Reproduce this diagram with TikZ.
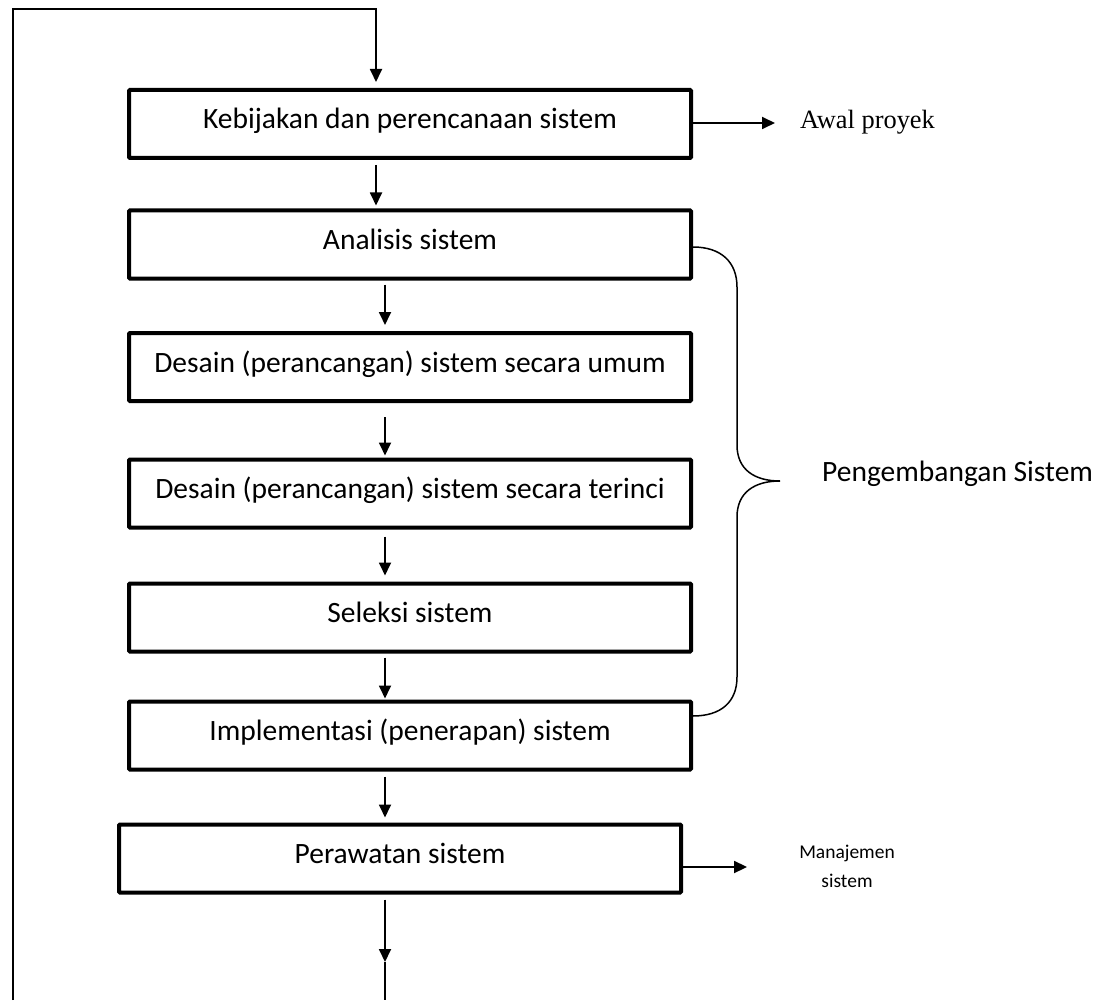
\documentclass[tikz,border=0pt]{standalone}
\usepackage{fontspec}
\setmainfont{Carlito}
\newfontfamily\seriffont{Liberation Serif}
\usetikzlibrary{arrows.meta,calc}
\begin{document}
\begin{tikzpicture}[x=1pt,y=-1pt,
  stepbox/.style={draw, line width=4pt, minimum width=562pt, minimum height=68pt,
    inner sep=0pt, font=\fontsize{29.5pt}{35pt}\selectfont,
    text height=18pt, text depth=8pt, rounded corners=1pt},
  conn/.style={line width=1.8pt},
  arr/.style={conn, -{Triangle[length=13pt,width=12pt]}},
  brace/.style={line width=1.5pt},
  lbl/.style={inner sep=0pt}]
\useasboundingbox (0,0) rectangle (1106,1003);
\fill[white] (0,0) rectangle (1106,1003);

\node[stepbox] (b1) at (410,124) {Kebijakan dan perencanaan sistem};
\node[stepbox] (b2) at (410,244.5) {Analisis sistem};
\node[stepbox] (b3) at (410,367) {Desain (perancangan) sistem secara umum};
\node[stepbox] (b4) at (410,493.5) {Desain (perancangan) sistem secara terinci};
\node[stepbox] (b5) at (410,617.5) {Seleksi sistem};
\node[stepbox] (b6) at (410,735.5) {Implementasi (penerapan) sistem};
\node[stepbox] (b7) at (400,858.5) {Perawatan sistem};

\node[lbl, anchor=base west, font=\seriffont\fontsize{26.4pt}{30pt}\selectfont] (awal) at (800,129) {Awal proyek};
\node[lbl, anchor=base west, font=\fontsize{29.5pt}{35pt}\selectfont] (peng) at (822,481) {Pengembangan Sistem};
\node[lbl, align=center, font=\fontsize{19.5pt}{29pt}\selectfont] (manaj) at (847,866) {Manajemen\\sistem};

% feedback loop
\coordinate (lb) at (13,1000);
\coordinate (lt) at (13,9);
\coordinate (rt) at (376,9);
\draw[arr, shorten >=6pt] (lb) -- (lt) -- (rt) -- (rt |- b1.north);

% main flow
\draw[arr, shorten <=5pt, shorten >=3pt] ([xshift=-34pt]b1.south) -- ([xshift=-34pt]b2.north);
\draw[arr, shorten <=4pt, shorten >=6pt] ([xshift=-25pt]b2.south) -- ([xshift=-25pt]b3.north);
\draw[arr, shorten <=14pt, shorten >=2pt] ([xshift=-25pt]b3.south) -- ([xshift=-25pt]b4.north);
\draw[arr, shorten <=7pt, shorten >=6pt] ([xshift=-25pt]b4.south) -- ([xshift=-25pt]b5.north);
\draw[arr, shorten <=4pt, shorten >=1pt] ([xshift=-25pt]b5.south) -- ([xshift=-25pt]b6.north);
\draw[arr, shorten <=5pt, shorten >=5pt] ([xshift=-25pt]b6.south) -- ([xshift=-15pt]b7.north);
\coordinate (btip) at (385,962);
\coordinate (bend) at (385,1000);
\draw[arr, shorten <=5pt] ([xshift=-15pt]b7.south) -- (btip);
\draw[conn] (btip) -- (bend);

% side arrows
\draw[arr, shorten >=25pt] ([yshift=1pt]b1.east) -- ([yshift=1pt]b1.east -| awal.west);
\draw[arr, shorten >=52pt] ([yshift=-8.5pt]b7.east) -- ([yshift=-8.5pt]b7.east -| manaj.west);

% brace
\draw[brace] ([yshift=-2.5pt]b2.east) .. controls +(28,0) and +(0,-25) .. (737,287)
  -- (737,445) .. controls +(0,25) and +(-25,0) .. (780,481)
  .. controls +(-25,0) and +(0,-25) .. (737,517)
  -- (737,677) .. controls +(0,25) and +(28,0) .. ([yshift=19.5pt]b6.east);
\end{tikzpicture}
\end{document}
